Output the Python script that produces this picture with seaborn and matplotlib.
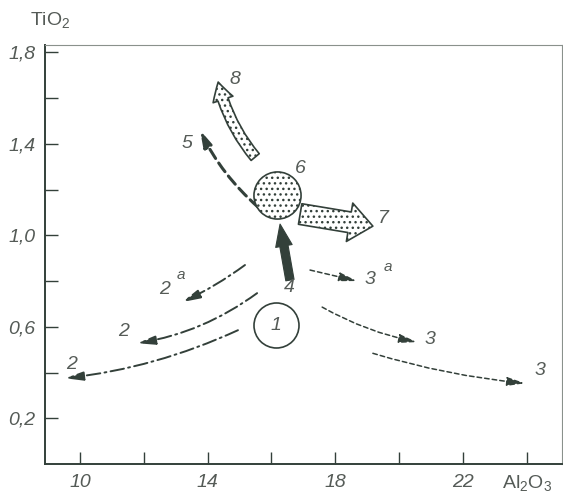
import matplotlib
matplotlib.use("Agg")
import matplotlib.pyplot as plt
import pandas as pd
import seaborn as sns

# Al2O3 / TiO2 positions of the two compositional fields
field_x = [16.14, 16.19]
field_y = [0.607, 1.174]
field_name = ["1", "6"]

# dash-dot trends 2a, 2, 2 (tail -> head)
t2_tail_x = [15.17, 15.55, 14.95]
t2_tail_y = [0.870, 0.747, 0.585]
t2_head_x = [13.20, 11.79, 9.53]
t2_head_y = [0.708, 0.528, 0.375]
t2_bend = [-0.05, -0.12, -0.08]
t2_label = ["2", "2", "2"]
t2_sup = ["a", "", ""]
t2_label_x = [12.66, 11.35, 9.72]
t2_label_y = [0.765, 0.580, 0.436]

# short-dash trends 3a, 3, 3
t3_tail_x = [17.21, 17.59, 19.18]
t3_tail_y = [0.848, 0.686, 0.484]
t3_head_x = [18.68, 20.56, 23.95]
t3_head_y = [0.800, 0.533, 0.353]
t3_bend = [0.0, 0.08, 0.05]
t3_label = ["3", "3", "3"]
t3_sup = ["a", "", ""]
t3_label_x = [19.09, 20.97, 24.42]
t3_label_y = [0.808, 0.546, 0.410]

# trend 4 (solid), 5 (long dashes), 7 and 8 (stippled)
t4_tail = (16.58, 0.804)
t4_head = (16.27, 1.049)
t4_label = (16.55, 0.773)
t5_tail = (15.58, 1.123)
t5_head = (13.76, 1.460)
t5_label = (13.35, 1.400)
t7_tail = (16.90, 1.093)
t7_head = (19.18, 1.040)
t7_label = (19.50, 1.075)
t8_tail = (15.49, 1.342)
t8_head = (14.33, 1.670)
t8_label = (14.86, 1.680)
field6_label = (16.90, 1.294)

y_ticks = [0.2, 0.4, 0.6, 0.8, 1.0, 1.2, 1.4, 1.6, 1.8]
y_ticklabels = ["0,2", "", "0,6", "", "1,0", "", "1,4", "", "1,8"]
x_ticks = [10, 12, 14, 16, 18, 20, 22, 24]
x_ticklabels = ["10", "", "14", "", "18", "", "22", "Al$_2$O$_3$"]

INK = "#33403a"
TXT = "#555b57"

sns.set_theme(style="ticks")
plt.rcParams["font.family"] = ["Liberation Sans", "DejaVu Sans"]
plt.rcParams["mathtext.fontset"] = "custom"
plt.rcParams["mathtext.rm"] = "Liberation Sans"
plt.rcParams["hatch.linewidth"] = 1.0
plt.rcParams["hatch.color"] = INK

fig = plt.figure(figsize=(5.63, 4.93), dpi=100)
ax = fig.add_axes([45 / 563, 29 / 493, 517 / 563, 419 / 493])
ax.set_xlim(8.9, 25.11)
ax.set_ylim(0.0, 1.832)

fields = pd.DataFrame({"x": field_x, "y": field_y, "name": field_name})
sns.scatterplot(data=fields.iloc[[0]], x="x", y="y", s=1050, marker="o",
                facecolor="white", edgecolor=INK, linewidth=1.2, ax=ax, zorder=3)
sns.scatterplot(data=fields.iloc[[1]], x="x", y="y", s=1150, marker="o",
                facecolor="white", edgecolor=INK, linewidth=1.2, hatch="...",
                ax=ax, zorder=3)

lab_kw = dict(fontsize=14, style="italic", color=TXT, ha="center", va="center")
ax.text(field_x[0], field_y[0], field_name[0], **lab_kw, zorder=4)
ax.text(*field6_label, field_name[1], **lab_kw)


def line_arrow(tail, head, bend, ls, lw, hl, hw):
    ax.annotate("", xy=head, xytext=tail,
                arrowprops=dict(arrowstyle=f"-|>,head_length={hl},head_width={hw}",
                                linestyle=ls, lw=lw, color=INK,
                                connectionstyle=f"arc3,rad={bend}",
                                shrinkA=0, shrinkB=0), zorder=2)


for i in range(3):
    line_arrow((t2_tail_x[i], t2_tail_y[i]), (t2_head_x[i], t2_head_y[i]),
               t2_bend[i], (0, (7, 2.2, 1, 2.2)), 1.4, 0.9, 0.22)
    ax.text(t2_label_x[i], t2_label_y[i], t2_label[i], **lab_kw)
    if t2_sup[i]:
        ax.text(t2_label_x[i] + 0.5, t2_label_y[i] + 0.062, t2_sup[i],
                fontsize=11, style="italic", color=TXT, ha="center", va="center")

for i in range(3):
    line_arrow((t3_tail_x[i], t3_tail_y[i]), (t3_head_x[i], t3_head_y[i]),
               t3_bend[i], (0, (3, 2)), 1.1, 0.9, 0.22)
    ax.text(t3_label_x[i], t3_label_y[i], t3_label[i], **lab_kw)
    if t3_sup[i]:
        ax.text(t3_label_x[i] + 0.55, t3_label_y[i] + 0.055, t3_sup[i],
                fontsize=11, style="italic", color=TXT, ha="center", va="center")

# trend 5: heavy long dashes
line_arrow(t5_tail, t5_head, -0.1, (0, (3.5, 1.8)), 2.2, 0.8, 0.22)
ax.text(*t5_label, "5", **lab_kw)

# trend 4: solid dark arrow
ax.annotate("", xy=t4_head, xytext=t4_tail,
            arrowprops=dict(arrowstyle="simple,head_length=0.8,head_width=0.6,tail_width=0.3",
                            fc=INK, ec=INK, lw=0.8, shrinkA=0, shrinkB=0,
                            mutation_scale=20), zorder=2)
ax.text(*t4_label, "4", **lab_kw)

# trends 7 and 8: stippled broad arrows
ax.annotate("", xy=t7_head, xytext=t7_tail,
            arrowprops=dict(arrowstyle="simple,head_length=0.85,head_width=1.4,tail_width=0.75",
                            fc="white", ec=INK, lw=1.2, hatch="...",
                            shrinkA=0, shrinkB=0, mutation_scale=20), zorder=2)
ax.text(*t7_label, "7", **lab_kw)

ax.annotate("", xy=t8_head, xytext=t8_tail,
            arrowprops=dict(arrowstyle="simple,head_length=0.65,head_width=0.75,tail_width=0.38",
                            fc="white", ec=INK, lw=1.2, hatch="...",
                            connectionstyle="arc3,rad=-0.12",
                            shrinkA=0, shrinkB=0, mutation_scale=20), zorder=2)
ax.text(*t8_label, "8", **lab_kw)

# axes frame and ticks
ax.set_xticks(x_ticks)
ax.set_xticklabels(x_ticklabels)
ax.set_yticks(y_ticks)
ax.set_yticklabels(y_ticklabels)
for lab in ax.get_xticklabels()[:-1] + ax.get_yticklabels():
    lab.set_fontstyle("italic")
ax.tick_params(direction="in", length=9, width=1.0, color=INK,
               labelsize=14, labelcolor=TXT, pad=7)
ax.set_xlabel("")
ax.set_ylabel("")
for side in ["left", "bottom"]:
    ax.spines[side].set_color(INK)
    ax.spines[side].set_linewidth(1.4)
for side in ["top", "right"]:
    ax.spines[side].set_visible(True)
    ax.spines[side].set_color("#8a918c")
    ax.spines[side].set_linewidth(0.8)

fig.text(50 / 563, 1 - 21 / 493, "TiO$_2$", fontsize=14, color=TXT,
         ha="center", va="center")

fig.savefig("out.png", dpi=100, facecolor="white")
